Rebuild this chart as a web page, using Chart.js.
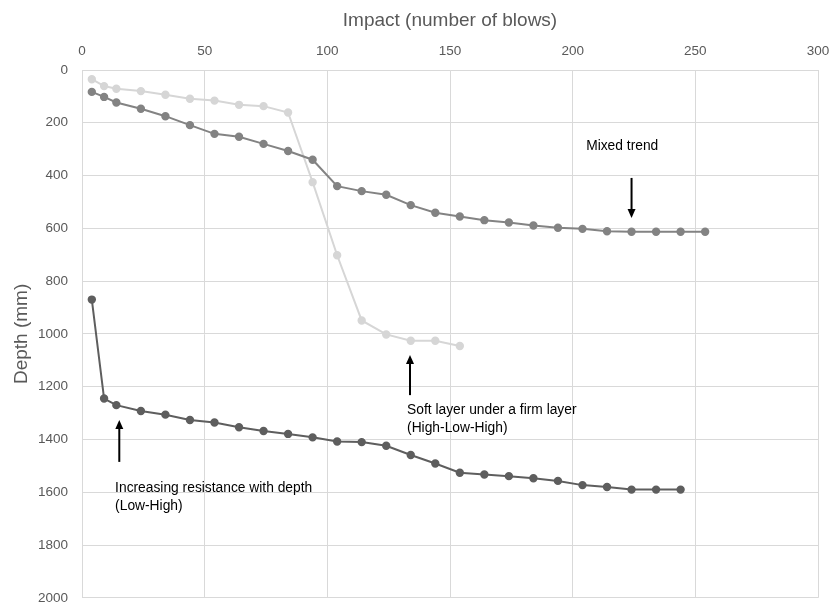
<!DOCTYPE html>
<html>
<head>
<meta charset="utf-8">
<script src="https://cdn.jsdelivr.net/npm/chart.js@4.4.1/dist/chart.umd.min.js"></script>
<style>
  html, body { margin: 0; padding: 0; background: #fff; }
  #wrap { width: 829px; height: 603px; }
</style>
</head>
<body>
<div id="wrap"><canvas id="penetration-chart"></canvas></div>
<script>
// impact (blows) readings for each test
var blows_mixed = [4, 9, 14, 24, 34, 44, 54, 64, 74, 84, 94, 104, 114, 124, 134, 144, 154, 164, 174, 184, 194, 204, 214, 224, 234, 244, 254];
var depth_mixed = [83, 102, 123, 147, 175, 209, 242, 253, 280, 307, 340, 440, 459, 473, 512, 541, 555, 569, 578, 589, 598, 602, 611, 613, 613, 613, 613];

var blows_soft = [4, 9, 14, 24, 34, 44, 54, 64, 74, 84, 94, 104, 114, 124, 134, 144, 154];
var depth_soft = [35, 61, 71, 80, 94, 109, 116, 132, 137, 161, 425, 702, 949, 1002, 1026, 1026, 1046];

var blows_low = [4, 9, 14, 24, 34, 44, 54, 64, 74, 84, 94, 104, 114, 124, 134, 144, 154, 164, 174, 184, 194, 204, 214, 224, 234, 244];
var depth_low = [870, 1245, 1270, 1292, 1306, 1326, 1336, 1354, 1368, 1379, 1392, 1408, 1410, 1424, 1459, 1491, 1526, 1533, 1539, 1547, 1557, 1573, 1580, 1590, 1590, 1590];

var xTicks = [0, 50, 100, 150, 200, 250, 300];
var yTicks = [0, 200, 400, 600, 800, 1000, 1200, 1400, 1600, 1800, 2000];

// notes and arrows, in data units (impact, depth)
var notes = [
  { x: 205.5, y: 288, lines: ["Mixed trend"] },
  { x: 132.5, y: 1288, lines: ["Soft layer under a firm layer", "(High-Low-High)"] },
  { x: 13.5, y: 1584, lines: ["Increasing resistance with depth", "(Low-High)"] }
];
var arrows = [
  { x: 224, from: 409, to: 561 },
  { x: 133.7, from: 1232, to: 1080 },
  { x: 15.2, from: 1485, to: 1326 }
];

function pairs(xs, ys) {
  var out = [];
  for (var i = 0; i < xs.length; i++) out.push({ x: xs[i], y: ys[i] });
  return out;
}

function series(label, xs, ys, color) {
  return {
    label: label,
    data: pairs(xs, ys),
    borderColor: color,
    backgroundColor: color,
    borderWidth: 2,
    pointRadius: 3.2,
    pointHoverRadius: 3.2,
    showLine: true,
    tension: 0
  };
}

// no extra room for the end tick labels, the plot is placed by hand
function noEdgePadding(s) {
  s.paddingLeft = 0;
  s.paddingRight = 0;
  s.paddingTop = 0;
  s.paddingBottom = 0;
}

var notesPlugin = {
  id: 'notes',
  afterDatasetsDraw: function(chart) {
    var ctx = chart.ctx;
    var xs = chart.scales.x, ys = chart.scales.y;
    ctx.save();
    ctx.fillStyle = '#000';
    ctx.font = '13.8px "Liberation Sans", Arial, sans-serif';
    ctx.textBaseline = 'middle';
    notes.forEach(function(n) {
      var px = xs.getPixelForValue(n.x);
      var py = ys.getPixelForValue(n.y);
      n.lines.forEach(function(t, i) {
        ctx.fillText(t, px, py + i * 18);
      });
    });
    ctx.strokeStyle = '#000';
    ctx.lineWidth = 2;
    arrows.forEach(function(a) {
      var px = xs.getPixelForValue(a.x);
      var y0 = ys.getPixelForValue(a.from);
      var y1 = ys.getPixelForValue(a.to);
      var dir = y1 > y0 ? 1 : -1;
      ctx.beginPath();
      ctx.moveTo(px, y0);
      ctx.lineTo(px, y1 - dir * 6);
      ctx.stroke();
      ctx.beginPath();
      ctx.moveTo(px, y1);
      ctx.lineTo(px - 4, y1 - dir * 9);
      ctx.lineTo(px + 4, y1 - dir * 9);
      ctx.closePath();
      ctx.fill();
    });
    ctx.restore();
  }
};

window.onload = function() {
  var canvas = document.getElementById('penetration-chart');
  new Chart(canvas, {
    type: 'scatter',
    data: {
      datasets: [
        series('Mixed trend', blows_mixed, depth_mixed, '#838383'),
        series('High-Low-High', blows_soft, depth_soft, '#d6d6d6'),
        series('Low-High', blows_low, depth_low, '#5e5e5e')
      ]
    },
    options: {
      responsive: true,
      maintainAspectRatio: false,
      animation: false,
      layout: { padding: { left: 0, top: 0, right: 11, bottom: 5 } },
      plugins: {
        legend: { display: false },
        tooltip: { enabled: false }
      },
      scales: {
        x: {
          type: 'linear',
          position: 'top',
          min: 0,
          max: 300,
          afterBuildTicks: function(s) { s.ticks = xTicks.map(function(v) { return { value: v }; }); },
          afterFit: function(s) { s.height = 70; noEdgePadding(s); },
          grid: { color: '#d9d9d9', lineWidth: 1, drawTicks: false },
          border: { color: '#d9d9d9', width: 1 },
          ticks: { color: '#595959', font: { size: 13.5, family: '"Liberation Sans", Arial, sans-serif' }, padding: 11 },
          title: {
            display: true,
            text: 'Impact (number of blows)',
            color: '#595959',
            font: { size: 19, family: '"Liberation Sans", Arial, sans-serif' },
            padding: { top: 9, bottom: 0 }
          }
        },
        y: {
          type: 'linear',
          reverse: true,
          min: 0,
          max: 2000,
          afterBuildTicks: function(s) { s.ticks = yTicks.map(function(v) { return { value: v }; }); },
          afterFit: function(s) { s.width = 82; noEdgePadding(s); },
          grid: { color: '#d9d9d9', lineWidth: 1, drawTicks: false },
          border: { color: '#d9d9d9', width: 1 },
          ticks: {
            color: '#595959',
            font: { size: 13.5, family: '"Liberation Sans", Arial, sans-serif' },
            padding: 14,
            callback: function(v) { return String(v); }
          },
          title: {
            display: true,
            text: 'Depth (mm)',
            color: '#595959',
            font: { size: 19, family: '"Liberation Sans", Arial, sans-serif' },
            padding: { top: 10, bottom: 0 }
          }
        }
      }
    },
    plugins: [notesPlugin]
  });
};
</script>
</body>
</html>
